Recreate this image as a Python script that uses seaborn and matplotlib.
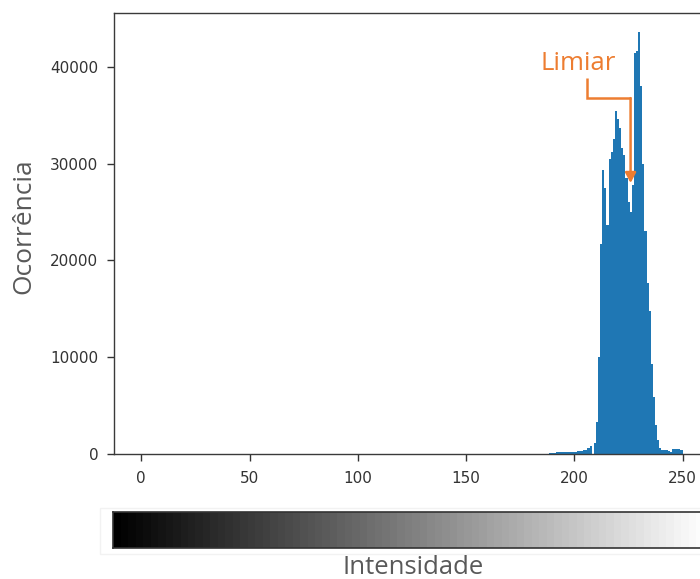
import numpy as np
import matplotlib
matplotlib.use("Agg")
import matplotlib.pyplot as plt
from matplotlib.patches import Rectangle
import seaborn as sns

# Pixel intensities present in the image and how often each occurs
intensidade = list(range(189, 251))
contagem = [
    140, 140, 140,                                           # 189-191
    170, 180, 190, 190, 200, 190, 200, 210, 220, 240,        # 192-201
    280, 310, 340, 420, 460, 600, 790,                       # 202-208
    1100, 3300, 10000, 21700, 29300, 27500, 23700,           # 209-215
    30500, 31200, 32600, 35400, 34600, 33700, 31600,         # 216-222
    30900, 28500, 26000, 25000, 27800, 41400, 41600,         # 223-229
    43600, 38000, 30000, 23000, 17700, 14800, 9300,          # 230-236
    5900, 3000, 1440, 600, 420, 400, 390,                    # 237-243
    260, 240, 480, 500, 490, 470, 450,                       # 244-250
]

# Histogram settings (256 bins over the image's full intensity range)
n_bins = 256
faixa = (0, 250)

# Threshold marked on the histogram
limiar = 226
altura_ponta = 28000

x_ticks = [0, 50, 100, 150, 200, 250]
y_ticks = [0, 10000, 20000, 30000, 40000]

sns.set_style("ticks")
plt.rcParams["font.family"] = ["DejaVu Sans"]

W, H = 700, 579
fig = plt.figure(figsize=(W / 100, H / 100), dpi=100)

# Main histogram axes (the right border runs past the figure edge)
ax = fig.add_axes([114.2 / W, (H - 454) / H, (709.6 - 114.2) / W, (454 - 12.7) / H])
sns.histplot(
    x=intensidade, weights=contagem, bins=n_bins, binrange=faixa,
    color="#1f77b4", alpha=1.0, linewidth=0, ax=ax,
)
ax.set_xlim(faixa[0] - 0.05 * (faixa[1] - faixa[0]), faixa[1] + 0.05 * (faixa[1] - faixa[0]))
ax.set_ylim(0, 45600)
ax.set_xticks(x_ticks)
ax.set_yticks(y_ticks)
ax.set_xlabel("")
ax.set_ylabel("")
for s in ax.spines.values():
    s.set_visible(True)
    s.set_color("#3a3a3a")
    s.set_linewidth(1.0)
ax.tick_params(axis="both", labelsize=11, colors="#333333", length=5, width=1.0)
ax.tick_params(axis="y", pad=6.5)
ax.tick_params(axis="x", pad=7)

# Threshold annotation
laranja = "#ED7D31"
x_texto = 205.9
y_cotovelo = 36770
ax.plot([x_texto, x_texto, limiar], [38830, y_cotovelo, y_cotovelo],
        color=laranja, lw=1.8, solid_capstyle="butt", solid_joinstyle="miter")
ax.annotate(
    "", xy=(limiar, altura_ponta), xytext=(limiar, y_cotovelo),
    arrowprops=dict(arrowstyle="-|>,head_length=0.6,head_width=0.32",
                    color=laranja, lw=1.8, shrinkA=0, shrinkB=0),
)
ax.text(201.9, 40380, "Limiar", color=laranja, fontsize=18.5,
        family="Open Sans", ha="center", va="center")

# Axis titles
cinza = "#595959"
fig.text(24 / W, 1 - 226 / H, "Ocorrência", rotation=90, color=cinza,
         fontsize=19, family="Open Sans", ha="center", va="center")

# Grey-level ramp under the intensity axis
cb = fig.add_axes([113.3 / W, (H - 548) / H, (711 - 113.3) / W, 36 / H])
rampa = np.linspace(0, 1, 80)[None, :]
sns.heatmap(rampa, cmap="gray", vmin=0, vmax=1, cbar=False, ax=cb,
            xticklabels=False, yticklabels=False)
for s in cb.spines.values():
    s.set_visible(True)
    s.set_color("#333333")
    s.set_linewidth(1.2)
cb.set_xticks([rampa.shape[1] / 2])
cb.set_xticklabels([])
cb.set_yticks([])
cb.tick_params(axis="x", direction="in", top=True, bottom=True,
               length=4, width=1.5, color="#333333")

fig.patches.append(Rectangle((100 / W, (H - 554) / H), (720 - 100) / W, 46.3 / H,
                             transform=fig.transFigure, fill=False,
                             edgecolor="#f2f2f2", lw=1))

fig.text(413 / W, 1 - 574.5 / H, "Intensidade", color=cinza, fontsize=18.5,
         family="Open Sans", ha="center", va="baseline")

fig.savefig("out.png", dpi=100)
